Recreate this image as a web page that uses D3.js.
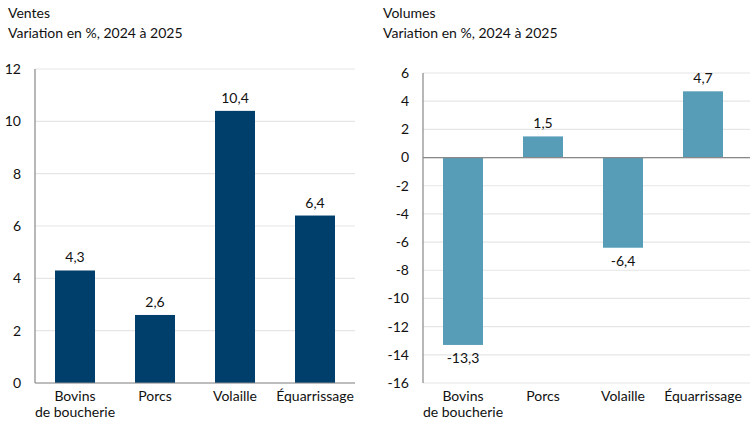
<!DOCTYPE html>
<html>
<head>
<meta charset="utf-8">
<script src="https://cdn.jsdelivr.net/npm/d3@7"></script>
<style>
  body { margin: 0; background: #fff; }
  svg { font-family: "Lato", "Inter", sans-serif; }
</style>
</head>
<body>
<svg id="chart" width="750" height="422"></svg>
<script>
// data
const categories = ["Bovins\nde boucherie", "Porcs", "Volaille", "Équarrissage"];
const ventes = [4.3, 2.6, 10.4, 6.4];
const volumes = [-13.3, 1.5, -6.4, 4.7];
const ventesTicks = [0, 2, 4, 6, 8, 10, 12];
const volumesTicks = [6, 4, 2, 0, -2, -4, -6, -8, -10, -12, -14, -16];

const svg = d3.select("#chart");
const fmt = v => String(v).replace(".", ",").replace("-", "-");

function panel(opts) {
  const g = svg.append("g");
  g.append("text").attr("x", opts.titleX).attr("y", 18)
    .style("font-size", "14px").style("fill", "#111").text(opts.title);
  g.append("text").attr("x", opts.titleX).attr("y", 38)
    .style("font-size", "14px").style("fill", "#111").text("Variation en %, 2024 à 2025");

  const x = d3.scaleBand().domain(categories)
    .range([opts.left, opts.left + 320]).paddingInner(0.5).paddingOuter(0.25);
  const y = d3.scaleLinear().domain(opts.domain).range([383, opts.top]);

  // gridlines
  g.selectAll(".grid").data(opts.ticks).enter().append("line")
    .attr("x1", opts.left).attr("x2", opts.gridRight)
    .attr("y1", d => y(d)).attr("y2", d => y(d))
    .style("stroke", "#e6e6e6").style("stroke-width", 1.2);

  // tick labels
  g.selectAll(".tick").data(opts.ticks).enter().append("text")
    .attr("x", opts.left - 14).attr("y", d => y(d)).attr("dy", "0.35em")
    .attr("text-anchor", "end")
    .style("font-size", "14px").style("fill", "#111")
    .text(d => fmt(d));

  const vals = opts.values;
  g.selectAll(".bar").data(vals).enter().append("rect")
    .attr("x", (d, i) => x(categories[i]))
    .attr("width", x.bandwidth())
    .attr("y", d => y(Math.max(0, d)))
    .attr("height", d => Math.abs(y(d) - y(0)))
    .style("fill", opts.colour);

  g.selectAll(".val").data(vals).enter().append("text")
    .attr("x", (d, i) => x(categories[i]) + x.bandwidth() / 2)
    .attr("y", d => d >= 0 ? y(d) - 8 : y(d) + 18)
    .attr("text-anchor", "middle")
    .style("font-size", "14px").style("fill", "#111")
    .text(d => fmt(d));

  // axis line and zero line
  g.append("line").attr("x1", opts.left).attr("x2", opts.left)
    .attr("y1", y(opts.domain[1])).attr("y2", 383)
    .style("stroke", "#888").style("stroke-width", 1.2);
  g.append("line").attr("x1", opts.left).attr("x2", opts.gridRight)
    .attr("y1", y(0)).attr("y2", y(0))
    .style("stroke", "#888").style("stroke-width", 1.2);

  // category labels
  categories.forEach(c => {
    const t = g.append("text")
      .attr("x", x(c) + x.bandwidth() / 2).attr("y", 401)
      .attr("text-anchor", "middle")
      .style("font-size", "14px").style("fill", "#111");
    c.split("\n").forEach((line, k) => {
      t.append("tspan").attr("x", x(c) + x.bandwidth() / 2)
        .attr("dy", k === 0 ? 0 : 16).text(line);
    });
  });
}

panel({ title: "Ventes", titleX: 8, left: 35, gridRight: 355, top: 69,
  domain: [0, 12], ticks: ventesTicks, values: ventes, colour: "#003f6b" });
panel({ title: "Volumes", titleX: 383, left: 423, gridRight: 750, top: 73,
  domain: [-16, 6], ticks: volumesTicks, values: volumes, colour: "#579db7" });
</script>
</body>
</html>
